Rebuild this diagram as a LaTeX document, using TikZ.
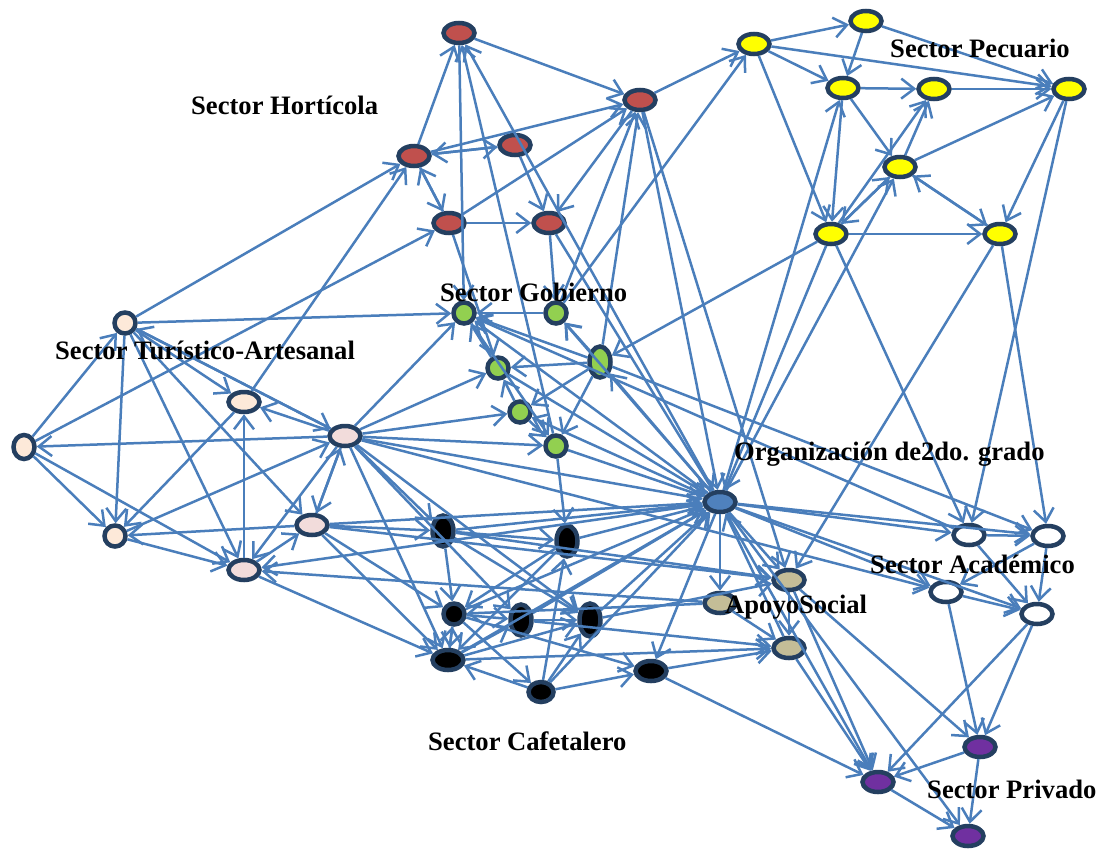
\documentclass[tikz,border=0pt]{standalone}
\usepackage{fontspec}
\setmainfont{Liberation Serif}
\usepackage{tikz}
\usetikzlibrary{shapes.geometric, arrows.meta}
\definecolor{NodeLine}{HTML}{243F60}
\definecolor{EdgeBlue}{HTML}{4A7EBB}
\definecolor{HortRed}{HTML}{C0504D}
\definecolor{PecYellow}{HTML}{FFFF00}
\definecolor{GobGreen}{HTML}{92D050}
\definecolor{TurPeach}{HTML}{FDE9D9}
\definecolor{TurPink}{HTML}{F2DCDB}
\definecolor{OrgBlue}{HTML}{4F81BD}
\definecolor{ApoTan}{HTML}{C4BD97}
\definecolor{PriPurple}{HTML}{7030A0}
\newcommand\labhort{Sector Hortícola}
\newcommand\labpec{Sector Pecuario}
\newcommand\labgob{Sector Gobierno}
\newcommand\labtur{Sector Turístico-Artesanal}
\newcommand\laborg{Organización de2do. grado}
\newcommand\labaca{Sector Académico}
\newcommand\labapo{ApoyoSocial}
\newcommand\labcaf{Sector Cafetalero}
\newcommand\labpri{Sector Privado}
\tikzstyle{mynodestyle} = [ellipse, draw=NodeLine, line width=4.5pt, inner sep=0pt, minimum width=31pt, minimum height=20pt]
\tikzstyle{sn} = [minimum width=21pt, minimum height=21pt]
\tikzstyle{tn} = [minimum width=21pt, minimum height=31pt]
\tikzstyle{rn} = [mynodestyle, fill=HortRed]
\tikzstyle{yn} = [mynodestyle, fill=PecYellow]
\tikzstyle{gn} = [mynodestyle, fill=GobGreen]
\tikzstyle{pn} = [mynodestyle, fill=TurPeach]
\tikzstyle{kn} = [mynodestyle, fill=TurPink]
\tikzstyle{orgn} = [mynodestyle, fill=OrgBlue]
\tikzstyle{cn} = [mynodestyle, fill=black]
\tikzstyle{an} = [mynodestyle, fill=ApoTan]
\tikzstyle{wn} = [mynodestyle, fill=white]
\tikzstyle{vn} = [mynodestyle, fill=PriPurple]
\tikzstyle{con} = [->, draw=EdgeBlue, line width=2.5pt]
\tikzstyle{lab} = [anchor=base west, inner sep=0pt, font=\fontsize{26.6}{30}\selectfont\bfseries]
\tikzset{>={Straight Barb[length=13pt,width=20pt]}}

\begin{document}
\begin{tikzpicture}[x=1pt, y=-1pt]
\useasboundingbox (0,0) rectangle (1099,849);
% Sector Horticola
\node[rn] (h1) at (459, 33) {};
\node[rn] (h2) at (640, 100) {};
\node[rn] (h3) at (414, 156) {};
\node[rn] (h4) at (515, 145) {};
\node[rn] (h5) at (449, 223) {};
\node[rn] (h6) at (549, 223) {};
% Sector Pecuario
\node[yn] (p1) at (754, 44) {};
\node[yn] (p2) at (866, 21) {};
\node[yn] (p3) at (843, 88) {};
\node[yn] (p4) at (934, 89) {};
\node[yn] (p5) at (1069, 89) {};
\node[yn] (p6) at (900, 167) {};
\node[yn] (p7) at (831, 234) {};
\node[yn] (p8) at (1000, 234) {};
% Sector Turistico-Artesanal
\node[pn, sn] (t1) at (125, 323) {};
\node[pn, sn, minimum height=24pt] (t2) at (24, 447) {};
\node[pn, sn] (t3) at (115, 536) {};
\node[pn] (t4) at (244, 402) {};
\node[kn] (t5) at (345, 436) {};
\node[kn] (t6) at (312, 525) {};
\node[kn] (t7) at (244, 570) {};
% Sector Gobierno
\node[gn, sn] (g1) at (464, 313) {};
\node[gn, sn] (g2) at (556, 313) {};
\node[gn, tn] (g3) at (600, 362) {};
\node[gn, sn] (g4) at (498, 368) {};
\node[gn, sn] (g5) at (520, 412) {};
\node[gn, sn] (g6) at (556, 446) {};
% Organizacion de 2do grado
\node[orgn] (o) at (720, 502) {};
% Sector Cafetalero
\node[cn, tn] (c1) at (443, 531) {};
\node[cn, tn] (c2) at (567, 541) {};
\node[cn, sn] (c3) at (454, 614) {};
\node[cn, tn] (c4) at (521, 620) {};
\node[cn, tn, minimum height=33pt] (c5) at (590, 620) {};
\node[cn] (c6) at (448, 660) {};
\node[cn, minimum width=25pt] (c7) at (541, 692) {};
\node[cn] (c8) at (651, 671) {};
% ApoyoSocial
\node[an] (a1) at (789, 580) {};
\node[an] (a2) at (720, 603) {};
\node[an] (a3) at (789, 648) {};
% Sector Academico
\node[wn] (ac1) at (969, 535) {};
\node[wn] (ac2) at (1048, 536) {};
\node[wn] (ac3) at (946, 592) {};
\node[wn] (ac4) at (1037, 614) {};
% Sector Privado
\node[vn] (v1) at (980, 747) {};
\node[vn] (v2) at (878, 782) {};
\node[vn] (v3) at (968, 836) {};
% horticola links
\draw [con] (h3) -- (h1);
\draw [con] (o) -- (h1);
\draw [con] (g6) -- (h1);
\draw [con] (h1) -- (h2);
\draw [con] (h1) -- (g1);
\draw [con] (h3) -- (h4);
\draw [con] (h4) -- (h3);
\draw [con] (h3) -- (h2);
\draw [con] (h3) -- (h5);
\draw [con] (h5) -- (h3);
\draw [con] (h4) -- (h6);
\draw [con] (h5) -- (h6);
\draw [con] (h5) -- (h2);
\draw [con] (h5) -- (g4);
\draw [con] (h2) -- (h6);
\draw [con] (h6) -- (o);
\draw [con] (h6) -- (g2);
\draw [con] (h2) -- (o);
\draw [con] (h2) -- (a1);
\draw [con] (g3) -- (h2);
\draw [con] (g2) -- (h2);
\draw [con] (t1) -- (h3);
\draw [con] (t4) -- (h3);
\draw [con] (t2) -- (h5);
% pecuario links
\draw [con] (h2) -- (p1);
\draw [con] (p1) -- (p2);
\draw [con] (p1) -- (p3);
\draw [con] (p1) -- (p5);
\draw [con] (p1) -- (p7);
\draw [con] (g2) -- (p1);
\draw [con] (p2) -- (p3);
\draw [con] (p2) -- (p5);
\draw [con] (p3) -- (p4);
\draw [con] (p3) -- (p6);
\draw [con] (p3) -- (p7);
\draw [con] (p4) -- (p5);
\draw [con] (p6) -- (p5);
\draw [con] (p6) -- (p4);
\draw [con] (p7) -- (p4);
\draw [con] (p6) -- (p7);
\draw [con] (p7) -- (p6);
\draw [con] (p6) -- (p8);
\draw [con] (p8) -- (p6);
\draw [con] (p7) -- (p8);
\draw [con] (p5) -- (p8);
\draw [con] (o) -- (p3);
\draw [con] (o) -- (p6);
\draw [con] (p7) -- (o);
\draw [con] (p7) -- (g3);
\draw [con] (p7) -- (ac1);
\draw [con] (p5) -- (ac1);
\draw [con] (p8) -- (ac2);
\draw [con] (p8) -- (a1);
% turistico links
\draw [con] (t2) -- (t1);
\draw [con] (t1) -- (g1);
\draw [con] (t1) -- (t5);
\draw [con] (t5) -- (t1);
\draw [con] (t1) -- (t4);
\draw [con] (t1) -- (t6);
\draw [con] (t1) -- (t7);
\draw [con] (t1) -- (t3);
\draw [con] (t2) -- (t3);
\draw [con] (t2) -- (t7);
\draw [con] (t5) -- (t2);
\draw [con] (t5) -- (t4);
\draw [con] (t7) -- (t4);
\draw [con] (t4) -- (t3);
\draw [con] (t3) -- (t5);
\draw [con] (t6) -- (t3);
\draw [con] (t3) -- (t7);
\draw [con] (t5) -- (t6);
\draw [con] (t6) -- (t5);
\draw [con] (t7) -- (t6);
\draw [con] (t5) -- (t7);
\draw [con] (t5) -- (g1);
\draw [con] (t5) -- (g4);
\draw [con] (t5) -- (g5);
\draw [con] (t5) -- (g6);
\draw [con] (t5) -- (o);
\draw [con] (t5) -- (c1);
\draw [con] (t5) -- (c4);
\draw [con] (t5) -- (c5);
\draw [con] (t5) -- (c6);
\draw [con] (t5) -- (ac3);
\draw [con] (t6) -- (o);
\draw [con] (t6) -- (c1);
\draw [con] (t6) -- (c3);
\draw [con] (t6) -- (c6);
\draw [con] (t6) -- (a1);
\draw [con] (t7) -- (c6);
\draw [con] (o) -- (t7);
\draw [con] (a2) -- (t7);
% gobierno links
\draw [con] (g2) -- (g1);
\draw [con] (g3) -- (g1);
\draw [con] (g4) -- (g1);
\draw [con] (g1) -- (g6);
\draw [con] (ac1) -- (g1);
\draw [con] (g3) -- (g2);
\draw [con] (g3) -- (g4);
\draw [con] (g3) -- (g5);
\draw [con] (g3) -- (g6);
\draw [con] (g5) -- (g4);
\draw [con] (g5) -- (g6);
\draw [con] (g3) -- (ac2);
\draw [con] (o) -- (g1);
\draw [con] (o) -- (g2);
\draw [con] (o) -- (g3);
\draw [con] (o) -- (g5);
\draw [con] (g4) -- (o);
\draw [con] (g6) -- (o);
\draw [con] (g6) -- (c2);
% cafetalero links
\draw [con] (c1) -- (c2);
\draw [con] (c1) -- (c3);
\draw [con] (c1) -- (c5);
\draw [con] (c1) -- (o);
\draw [con] (c1) -- (a1);
\draw [con] (c2) -- (c3);
\draw [con] (c2) -- (c6);
\draw [con] (c2) -- (o);
\draw [con] (c3) -- (c4);
\draw [con] (c3) -- (c6);
\draw [con] (c6) -- (c3);
\draw [con] (c3) -- (c7);
\draw [con] (c3) -- (c8);
\draw [con] (c3) -- (o);
\draw [con] (c4) -- (c5);
\draw [con] (c4) -- (o);
\draw [con] (c4) -- (a3);
\draw [con] (c5) -- (o);
\draw [con] (c5) -- (a1);
\draw [con] (c6) -- (c4);
\draw [con] (c6) -- (c5);
\draw [con] (c6) -- (o);
\draw [con] (c6) -- (a3);
\draw [con] (c7) -- (c6);
\draw [con] (c7) -- (c5);
\draw [con] (c7) -- (c8);
\draw [con] (c7) -- (c2);
\draw [con] (c7) -- (o);
\draw [con] (o) -- (c8);
\draw [con] (c8) -- (a3);
\draw [con] (c8) -- (v2);
\draw [con] (a2) -- (c3);
% apoyo social links
\draw [con] (o) -- (a1);
\draw [con] (o) -- (a2);
\draw [con] (a1) -- (a3);
\draw [con] (a2) -- (a3);
\draw [con] (a3) -- (o);
% academico links
\draw [con] (o) -- (ac1);
\draw [con] (o) -- (ac2);
\draw [con] (o) -- (ac3);
\draw [con] (o) -- (ac4);
\draw [con] (ac1) -- (ac2);
\draw [con] (ac2) -- (ac3);
\draw [con] (ac1) -- (ac4);
\draw [con] (ac2) -- (ac4);
\draw [con] (ac3) -- (ac4);
\draw [con] (ac3) -- (v1);
\draw [con] (ac4) -- (v1);
\draw [con] (ac4) -- (v2);
% privado links
\draw [con] (a1) -- (v1);
\draw [con] (a1) -- (v2);
\draw [con] (a3) -- (v2);
\draw [con] (o) -- (v2);
\draw [con] (o) -- (v3);
\draw [con] (v1) -- (v2);
\draw [con] (v1) -- (v3);
\draw [con] (v2) -- (v3);
% sector labels
\node[lab] (lhort) at (191, 114) {\labhort};
\node[lab] (lpec) at (890, 57) {\labpec};
\node[lab] (lgob) at (440, 301) {\labgob};
\node[lab] (ltur) at (55, 359) {\labtur};
\node[lab] (lorg) at (734, 460) {\laborg};
\node[lab] (laca) at (870, 573) {\labaca};
\node[lab] (lapo) at (725, 613) {\labapo};
\node[lab] (lcaf) at (428, 750) {\labcaf};
\node[lab] (lpri) at (927, 798) {\labpri};
\end{tikzpicture}
\end{document}
